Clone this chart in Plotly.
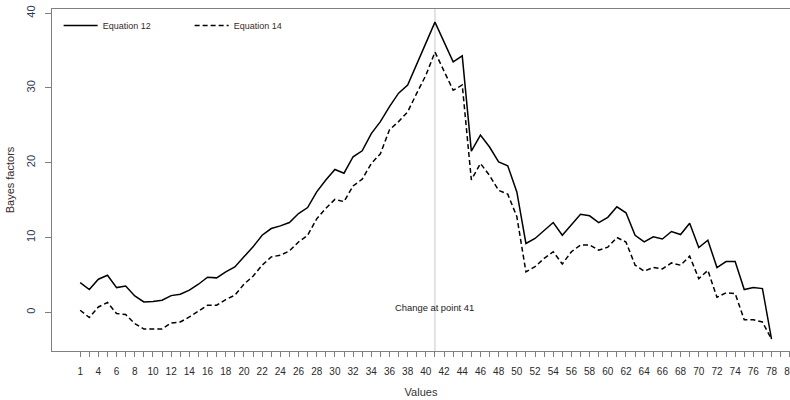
import plotly.graph_objects as go

# x positions of the plotted points (axis units)
x_idx = list(range(2, 79))

eq12 = [3.97, 3.04, 4.42, 4.95, 3.30, 3.52, 2.18, 1.38, 1.43, 1.61,
        2.23, 2.41, 2.95, 3.75, 4.69, 4.60, 5.40, 6.07, 7.41, 8.75,
        10.3, 11.2, 11.55, 12.0, 13.2, 14.0, 16.1, 17.7, 19.1, 18.6,
        20.8, 21.6, 23.9, 25.5, 27.5, 29.3, 30.4, 33.3, 36.0, 38.8,
        36.2, 33.5, 34.3, 21.55, 23.7, 22.1, 20.1, 19.6, 16.1, 9.2,
        9.87, 10.9, 12.0, 10.3, 11.7, 13.1, 12.9, 12.0, 12.7, 14.1,
        13.3, 10.3, 9.41, 10.1, 9.8, 10.8, 10.4, 11.9, 8.66, 9.64,
        5.98, 6.78, 6.78, 3.04, 3.3, 3.17, -3.6]

eq14 = [0.27, -0.71, 0.71, 1.30, -0.17, -0.31, -1.51, -2.24, -2.24, -2.24,
        -1.43, -1.30, -0.63, 0.17, 0.94, 0.94, 1.70, 2.28, 3.75, 4.82,
        6.3, 7.41, 7.63, 8.2, 9.4, 10.3, 12.5, 13.9, 15.1, 14.8,
        16.9, 17.8, 19.9, 21.2, 24.4, 25.5, 26.8, 29.3, 31.7, 34.8,
        32.3, 29.7, 30.4, 17.7, 19.9, 18.3, 16.3, 15.8, 12.8, 5.4,
        6.1, 7.2, 8.1, 6.45, 8.1, 9.0, 9.0, 8.3, 8.7, 10.0,
        9.4, 6.3, 5.5, 6.0, 5.8, 6.6, 6.3, 7.5, 4.5, 5.6,
        2.0, 2.6, 2.5, -1.0, -1.0, -1.3, -3.6]

series_names = ["Equation 12", "Equation 14"]

x_tick_pos = list(range(2, 81))
x_label_pos = [2] + list(range(4, 81, 2))
x_label_text = ["1"] + [str(v) for v in range(4, 81, 2)]

y_ticks = [0, 10, 20, 30, 40]

change_point = 41
change_label = "Change at point 41"
x_title = "Values"
y_title = "Bayes factors"

FONT = "Liberation Sans, Arial, sans-serif"
AX = "#7f7f7f"

ticktext = [x_label_text[x_label_pos.index(p)] if p in x_label_pos else "" for p in x_tick_pos]

fig = go.Figure()
fig.add_trace(go.Scatter(x=x_idx, y=eq12, mode="lines", name=series_names[0],
                         line=dict(color="black", width=1.5)))
fig.add_trace(go.Scatter(x=x_idx, y=eq14, mode="lines", name=series_names[1],
                         line=dict(color="black", width=1.5, dash="5px,3px")))

fig.add_shape(type="line", x0=change_point, x1=change_point, y0=0, y1=1,
              xref="x", yref="paper", line=dict(color="#c8c8c8", width=1), layer="below")
fig.add_annotation(x=change_point, y=0, xref="x", yref="y", text=change_label,
                   showarrow=False, font=dict(family=FONT, size=9.4, color="#222"),
                   yshift=5)

fig.update_layout(
    width=790, height=400,
    margin=dict(l=52, r=0, t=9, b=49, autoexpand=False),
    paper_bgcolor="white", plot_bgcolor="white",
    font=dict(family=FONT, color="#222"),
    showlegend=True,
    legend=dict(orientation="h", x=0.009, y=0.994, xanchor="left", yanchor="top",
                font=dict(family=FONT, size=9, color="#3a2a2a"),
                entrywidth=82, entrywidthmode="pixels", bgcolor="rgba(0,0,0,0)",
                itemwidth=34),
    xaxis=dict(range=[-1.1, 80.03], tickmode="array", tickvals=x_tick_pos, ticktext=ticktext,
               ticks="outside", ticklen=5, tickcolor=AX, tickwidth=1,
               showline=True, linecolor=AX, linewidth=1, mirror=True,
               showgrid=False, zeroline=False, automargin=False,
               tickfont=dict(family=FONT, size=10, color="#2a2a2a"),
               ticklabelstandoff=6, ticklabeloverflow="allow",
               title=dict(text=x_title, font=dict(family=FONT, size=11, color="#333"), standoff=12)),
    yaxis=dict(range=[-5.18, 40.56], tickmode="array", tickvals=y_ticks,
               ticks="outside", ticklen=6, tickcolor=AX, tickwidth=1,
               showline=True, linecolor=AX, linewidth=1, mirror=False,
               showgrid=False, zeroline=False, tickangle=-90, automargin=False,
               tickfont=dict(family=FONT, size=11, color="#2e3a52"),
               ticklabelstandoff=6,
               title=dict(text=y_title, font=dict(family=FONT, size=11, color="#3a2a2a"), standoff=7)),
)

fig.write_html("out.html")
